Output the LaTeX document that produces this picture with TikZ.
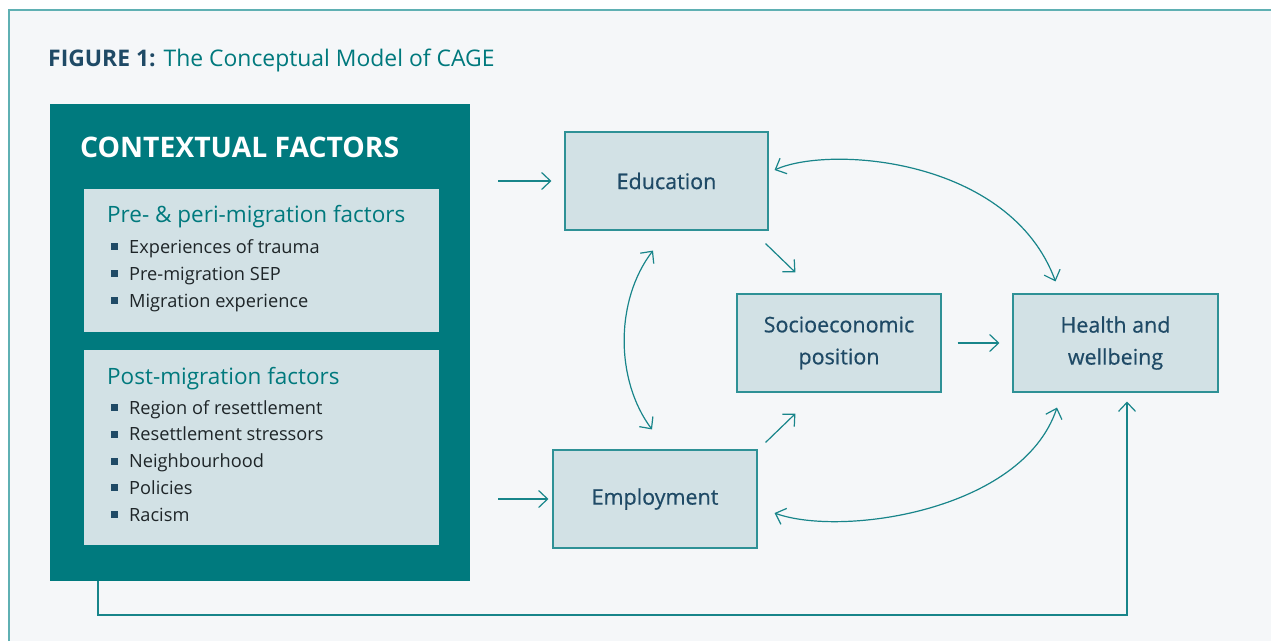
\documentclass[tikz,border=0pt]{standalone}
\usepackage{fontspec}
\setmainfont{Open Sans}
\newfontfamily\medfont[FakeBold=0.6]{Open Sans}
\usetikzlibrary{arrows.meta,calc}
\definecolor{bg}{HTML}{F5F7F9}
\definecolor{frame}{HTML}{5FB0B3}
\definecolor{tealdark}{HTML}{007A7E}
\definecolor{tealtxt}{HTML}{00797D}
\definecolor{boxfill}{HTML}{D2E1E5}
\definecolor{boxline}{HTML}{2E9196}
\definecolor{arrowc}{HTML}{18858A}
\definecolor{navy}{HTML}{1F4A66}
\definecolor{itemtxt}{HTML}{1E2528}
\tikzset{
  mainbox/.style={draw=boxline, line width=1.1pt, fill=boxfill, minimum width=#1, minimum height=98pt, inner sep=0pt, text=navy, font=\medfont\fontsize{21.5}{32}\selectfont, align=center},
  arr/.style={draw=arrowc, line width=1.2pt, -{Straight Barb[length=9pt,width=17pt,line width=1.2pt]}},
  darr/.style={draw=arrowc, line width=1.2pt, {Straight Barb[length=9pt,width=17pt,line width=1.2pt]}-{Straight Barb[length=9pt,width=17pt,line width=1.2pt]}},
  innerbox/.style={fill=boxfill, minimum width=355pt, inner sep=0pt},
  heading/.style={anchor=base west, inner sep=0pt, text=tealtxt, font=\fontsize{22.5}{26}\selectfont},
  item/.style={anchor=base west, inner sep=0pt, text=itemtxt, font=\fontsize{18.2}{22}\selectfont},
  bullet/.style={fill=navy, minimum size=7pt, inner sep=0pt},
}
\begin{document}
\begin{tikzpicture}[x=1pt,y=-1pt]
\useasboundingbox (0,0) rectangle (1271,641);
\fill[white] (0,0) rectangle (1271,641);
\fill[bg] (9,10) rectangle (1271,641);
\draw[frame, line width=1.3pt] (9,641) -- (9,10) -- (1271,10);

% title
\node[anchor=base west, inner sep=0pt, font=\fontsize{22.9}{27}\selectfont] (title) at (48,66)
  {\textcolor{navy}{\bfseries FIGURE 1:} \textcolor{tealtxt}{The Conceptual Model of CAGE}};

% contextual factors
\node[fill=tealdark, minimum width=420pt, minimum height=477pt, inner sep=0pt] (ctx) at (260,342.5) {};
\node[anchor=base west, inner sep=0pt, text=white, font=\bfseries\fontsize{28.3}{32}\selectfont] (ctxt) at (80,157) {CONTEXTUAL FACTORS};

\node[innerbox, minimum height=143pt] (pre) at (261.5,260.5) {};
\node[heading] (preh) at (107,222) {Pre- \& peri-migration factors};
\foreach \t [count=\i] in {Experiences of trauma, Pre-migration SEP, Migration experience}{
  \node[bullet] (preb\i) at (114.5,{253+27*(\i-1)-6.5}) {};
  \node[item] (prei\i) at (129,{253+27*(\i-1)}) {\t};
}

\node[innerbox, minimum height=195pt] (post) at (261.5,447.5) {};
\node[heading] (posth) at (107,384) {Post-migration factors};
\foreach \t [count=\i] in {Region of resettlement, Resettlement stressors, Neighbourhood, Policies, Racism}{
  \node[bullet] (postb\i) at (114.5,{414+26.8*(\i-1)-6.5}) {};
  \node[item] (posti\i) at (129,{414+26.8*(\i-1)}) {\t};
}

% main boxes
\node[mainbox=203pt] (edu) at (666.5,181) {Education};
\node[mainbox=204pt] (sep) at (839,343) {Socioeconomic\\position};
\node[mainbox=205pt] (hw) at (1115.5,343) {Health and\\wellbeing};
\node[mainbox=204pt] (emp) at (655,499) {Employment};

% straight arrows
\coordinate (inE) at (498,181);
\coordinate (inM) at (498,499);
\draw[arr] (inE) -- ($(edu.west)+(-13,0)$);
\draw[arr] (inM) -- ($(emp.west)+(-4,0)$);
\draw[arr] ($(edu.south east)+(-3,13)$) -- ($(sep.north west)+(59,-21)$);
\draw[arr] ($(emp.north east)+(8,-7)$) -- ($(sep.south west)+(59,21)$);
\draw[arr] ($(sep.east)+(16,0)$) -- ($(hw.west)+(-13,0)$);

% curved arrows
\draw[darr] ($(edu.south)+(-13.5,20)$) .. controls (615,300) and (615,380) .. ($(emp.north)+(-3,-20)$);
\draw[darr] ($(edu.east)+(6,-11)$) .. controls (830,145) and (1010,158) .. ($(hw.north)+(-60,-12)$);
\draw[darr] ($(emp.east)+(17,14)$) .. controls (840,537) and (1022,512) .. ($(hw.south)+(-58.5,15)$);

% feedback
\coordinate (fb1) at (98,581);
\coordinate (fb2) at (98,615);
\coordinate (fb3) at (1127,615);
\draw[arr] (fb1) -- (fb2) -- (fb3) -- ($(hw.south)+(11.5,9)$);
\end{tikzpicture}
\end{document}
